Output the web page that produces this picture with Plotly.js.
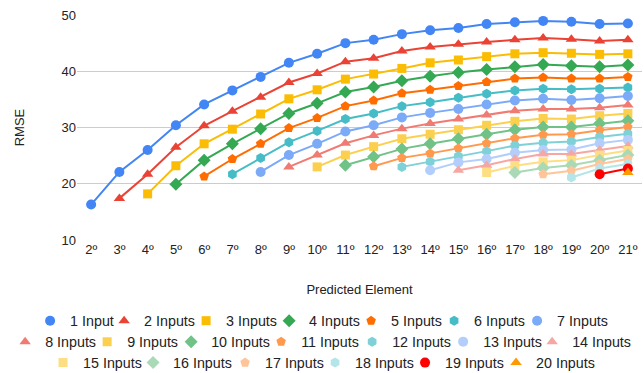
<!DOCTYPE html>
<html><head><meta charset="utf-8">
<script src="https://cdn.plot.ly/plotly-3.0.1.min.js"></script>
<style>html,body{margin:0;padding:0;background:#fff}</style>
</head><body><div id="chart" style="width:644px;height:373px"></div>
<script>
const categories = ['2\u00ba','3\u00ba','4\u00ba','5\u00ba','6\u00ba','7\u00ba','8\u00ba','9\u00ba','10\u00ba','11\u00ba','12\u00ba','13\u00ba','14\u00ba','15\u00ba','16\u00ba','17\u00ba','18\u00ba','19\u00ba','20\u00ba','21\u00ba'];

// each series ends at 21º and starts later by one element per extra input
const rmse1  = [16.3, 22.1, 26.0, 30.4, 34.1, 36.6, 39.0, 41.5, 43.1, 45.0, 45.6, 46.6, 47.3, 47.7, 48.4, 48.7, 48.95, 48.8, 48.4, 48.5];
const rmse2  = [17.4, 21.7, 26.5, 30.3, 32.9, 35.4, 38.0, 39.6, 41.7, 42.3, 43.6, 44.3, 44.8, 45.2, 45.6, 45.9, 45.7, 45.4, 45.6];
const rmse3  = [18.2, 23.2, 27.1, 29.7, 32.4, 35.1, 36.7, 38.6, 39.5, 40.5, 41.5, 42.0, 42.6, 43.1, 43.3, 43.2, 43.0, 43.1];
const rmse4  = [19.9, 24.2, 27.1, 29.8, 32.5, 34.3, 36.3, 37.2, 38.3, 39.1, 39.8, 40.3, 40.8, 41.2, 41.0, 40.8, 41.1];
const rmse5  = [21.3, 24.4, 27.1, 29.9, 31.7, 33.8, 34.8, 36.1, 36.7, 37.4, 38.1, 38.7, 38.9, 38.7, 38.7, 39.0];
const rmse6  = [21.7, 24.6, 27.4, 29.4, 31.5, 32.5, 33.8, 34.5, 35.3, 36.0, 36.6, 36.9, 36.8, 36.9, 37.1];
const rmse7  = [22.1, 25.1, 27.1, 29.3, 30.4, 31.8, 32.6, 33.3, 34.1, 34.8, 35.1, 34.9, 35.2, 35.6];
const rmse8  = [23.0, 25.1, 27.2, 28.6, 29.8, 30.7, 31.5, 32.2, 33.0, 33.3, 33.3, 33.5, 34.0];
const rmse9  = [23.0, 25.1, 26.6, 28.0, 28.8, 29.6, 30.4, 31.1, 31.6, 31.5, 32.1, 32.5];
const rmse10 = [23.3, 24.8, 26.2, 27.1, 28.0, 28.8, 29.6, 30.1, 30.1, 30.7, 31.2];
const rmse11 = [23.1, 24.6, 25.4, 26.3, 27.2, 28.1, 28.7, 28.8, 29.5, 30.1];
const rmse12 = [23.0, 23.9, 24.9, 25.8, 26.8, 27.3, 27.5, 28.3, 28.9];
const rmse13 = [22.4, 23.8, 24.4, 25.5, 26.0, 26.1, 27.2, 27.8];
const rmse14 = [22.4, 23.3, 24.4, 25.3, 25.3, 26.0, 26.7];
const rmse15 = [22.0, 23.2, 23.9, 24.2, 25.1, 25.9];
const rmse16 = [22.0, 22.8, 23.3, 24.2, 25.1];
const rmse17 = [21.7, 22.3, 23.5, 24.4];
const rmse18 = [21.1, 22.7, 23.5];
const rmse19 = [21.7, 22.7];
const rmse20 = [22.0];

const seriesNames = ['1 Input','2 Inputs','3 Inputs','4 Inputs','5 Inputs','6 Inputs','7 Inputs','8 Inputs','9 Inputs','10 Inputs','11 Inputs','12 Inputs','13 Inputs','14 Inputs','15 Inputs','16 Inputs','17 Inputs','18 Inputs','19 Inputs','20 Inputs'];
const seriesValues = [rmse1,rmse2,rmse3,rmse4,rmse5,rmse6,rmse7,rmse8,rmse9,rmse10,rmse11,rmse12,rmse13,rmse14,rmse15,rmse16,rmse17,rmse18,rmse19,rmse20];

// styling
const colors = ['#4285F4','#EA4335','#FBBC04','#34A853','#FF6D01','#46BDC6','#7BAAF7','#F07B72','#FCD04F','#71C287','#FF994D','#7ED1D7','#B3CEFB','#F7A7A1','#FDDE82','#AAD9B6','#FFC599','#B4E5E8','#FF0000','#FF9900'];
const symbols = ['circle','triangle-up','square','diamond','pentagon','hexagon'];
const symSize = {'circle':10,'triangle-up':10,'square':9,'diamond':10,'pentagon':10,'hexagon':10};
const legendRows = [[29,37,38,37,38,38,52],[37,39,45,46,46,44,60],[45,47,45,45,46,60]];
const legendIds = ['legend','legend2','legend3'];

const traces = [];
seriesValues.forEach((vals, i) => {
  const sym = symbols[i % 6];
  traces.push({
    type: 'scatter', mode: 'lines+markers',
    x: categories.slice(categories.length - vals.length), y: vals,
    line: {color: colors[i], width: 2},
    marker: {color: colors[i], symbol: sym, size: symSize[sym]},
    showlegend: false, hoverinfo: 'x+y+name', name: seriesNames[i]
  });
});
// legend-only marker entries
let k = 0;
legendRows.forEach((row, r) => {
  row.forEach((w) => {
    const sym = symbols[k % 6];
    traces.push({
      type: 'scatter', mode: 'markers', x: [null], y: [null],
      name: seriesNames[k], legend: legendIds[r], legendwidth: w,
      marker: {color: colors[k], symbol: sym, size: symSize[sym]}, hoverinfo: 'skip'
    });
    k++;
  });
});

const font = {family: '"Liberation Sans", Arial, sans-serif', size: 13, color: '#222'};
const legFont = {family: '"Liberation Sans", Arial, sans-serif', size: 14.3, color: '#222'};
function leg(x, y) {
  return {orientation: 'h', x: x, y: y, xanchor: 'left', yanchor: 'middle', xref: 'paper', yref: 'paper',
          font: legFont, bgcolor: 'rgba(0,0,0,0)', borderwidth: 0, itemclick: false};
}

const layout = {
  width: 644, height: 373,
  margin: {l: 77, r: 2, t: 15, b: 133, autoexpand: false},
  paper_bgcolor: '#fff', plot_bgcolor: '#fff',
  font: font,
  xaxis: {type: 'category', range: [-0.5, 19.5], showgrid: false, zeroline: false, showline: false, ticks: '',
          tickfont: font, automargin: false,
          title: {text: 'Predicted Element', font: font, standoff: 28}},
  yaxis: {range: [10, 50], dtick: 10, tick0: 10, gridcolor: '#cccccc', gridwidth: 1, zeroline: false, showline: false, ticks: '',
          tickfont: font, automargin: false,
          title: {text: 'RMSE', font: font, standoff: 33}},
  legend: leg(-0.0830, -0.3595),
  legend2: leg(-0.1272, -0.4527),
  legend3: leg(-0.0601, -0.5459),
  showlegend: true
};

Plotly.newPlot('chart', traces, layout, {displayModeBar: false, staticPlot: true});
</script></body></html>
